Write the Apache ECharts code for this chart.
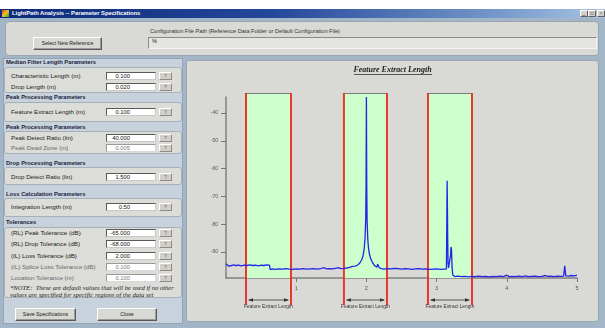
<!DOCTYPE html>
<html><head><meta charset="utf-8">
<script src="https://cdn.jsdelivr.net/npm/echarts@6/dist/echarts.min.js"></script>
<style>
body{margin:0;width:605px;height:328px;overflow:hidden;background:#fff;font-family:"Liberation Sans",Arial,sans-serif;position:relative;}
.a{position:absolute;box-sizing:border-box;white-space:nowrap;}
#win{left:0;top:9px;width:605px;height:319px;background:#a3b6c7;}
#tb{left:0;top:9px;width:605px;height:9px;background:linear-gradient(to right,#0c2a78,#23479a 45%,#6f93c6 80%,#a8c4e4);}
#tbt{left:12px;top:9px;font-size:5.8px;line-height:9px;color:#fff;font-weight:bold;}
.wb{top:10px;width:8px;height:7px;background:#d4d0c8;border:1px solid;border-color:#fff #606060 #606060 #fff;font-size:5px;line-height:5px;text-align:center;color:#000;}
.pnl{background:#d9d9d5;border:1px solid #9aa6b0;border-radius:4px;}
.btn{background:#d8d8d4;border:1px solid;border-color:#fff #5a5a5a #5a5a5a #fff;box-shadow:inset -1px -1px 0 #9a9a9a;font-size:5.2px;text-align:center;color:#222;}
.hd{left:6px;font-size:5.8px;font-weight:bold;color:#1b2440;line-height:8px;}
.box{left:4px;width:178px;background:#dcdcd9;border:1px solid #a6aeb6;border-radius:3px;}
.lbl{left:11px;font-size:6.2px;color:#222;line-height:8px;}
.lbl.g{color:#6a6a6a;}
.fld{left:106px;width:50px;height:8px;background:#fff;border:1px solid;border-color:#5a5a5a #c8c8c8 #c8c8c8 #5a5a5a;font-size:5.8px;line-height:6px;text-align:right;padding-right:25px;color:#111;}
.fld.g{color:#777;border-color:#9a9a9a #d8d8d8 #d8d8d8 #9a9a9a;}
.q{left:159px;width:13px;height:8px;background:#d4d0c8;border:1px solid;border-color:#fff #8a8a8a #8a8a8a #fff;font-size:5.2px;line-height:6px;text-align:center;color:#6f6f6f;}
.note{left:10px;font-family:"Liberation Serif",serif;font-style:italic;font-size:6.6px;color:#222;line-height:8px;}
</style></head><body>
<div class="a" id="win"></div>
<div class="a" id="tb"></div>
<div class="a" style="left:2px;top:10px;width:7px;height:7px;background:linear-gradient(135deg,#e8402a,#f0c020 50%,#30a040);"></div>
<div class="a" id="tbt">LightPath Analysis -- Parameter Specifications</div>
<div class="a wb" style="left:580px">_</div>
<div class="a wb" style="left:588px">□</div>
<div class="a wb" style="left:597px;color:#777">×</div>

<!-- top panel -->
<div class="a pnl" style="left:5px;top:21px;width:594px;height:35px;"></div>
<div class="a btn" style="left:33px;top:37px;width:69px;height:13px;line-height:11px;">Select New Reference</div>
<div class="a" style="left:150px;top:27px;font-size:5.6px;line-height:8px;color:#333;">Configuration File Path (Reference Data Folder or Default Configuration File)</div>
<div class="a" style="left:148px;top:37px;width:449px;height:12px;background:#e4e4e2;border:1px solid;border-color:#8a8a8a #f4f4f4 #f4f4f4 #8a8a8a;font-size:5.6px;line-height:7px;padding-left:3px;color:#222;">%</div>

<!-- left column -->
<div class="a" style="left:3px;top:58px;width:180px;height:266px;background:#c8d2dc;border:1px solid #93a5b5;"></div>
<div class="a hd" style="top:58px">Median Filter Length Parameters</div>
<div class="a box" style="top:67px;height:26px"></div>
<div class="a lbl" style="top:72px">Characteristic Length (m)</div><div class="a fld" style="top:72px">0.100</div><div class="a q" style="top:72px">?</div>
<div class="a lbl" style="top:83px">Drop Length (m)</div><div class="a fld" style="top:83px">0.020</div><div class="a q" style="top:83px">?</div>

<div class="a hd" style="top:93px">Peak Processing Parameters</div>
<div class="a box" style="top:102px;height:20px"></div>
<div class="a lbl" style="top:108px">Feature Extract Length (m)</div><div class="a fld" style="top:108px">0.100</div><div class="a q" style="top:108px">?</div>

<div class="a hd" style="top:123px">Peak Processing Parameters</div>
<div class="a box" style="top:131px;height:23px"></div>
<div class="a lbl" style="top:134px">Peak Detect Ratio (lin)</div><div class="a fld" style="top:134px">40.000</div><div class="a q" style="top:134px">?</div>
<div class="a lbl g" style="top:144px">Peak Dead Zone (m)</div><div class="a fld g" style="top:144px">0.005</div><div class="a q" style="top:144px">?</div>

<div class="a hd" style="top:159px">Drop Processing Parameters</div>
<div class="a box" style="top:167px;height:18px"></div>
<div class="a lbl" style="top:173px">Drop Detect Ratio (lin)</div><div class="a fld" style="top:173px">1.500</div><div class="a q" style="top:173px">?</div>

<div class="a hd" style="top:190px">Loss Calculation Parameters</div>
<div class="a box" style="top:198px;height:19px"></div>
<div class="a lbl" style="top:203px">Integration Length (m)</div><div class="a fld" style="top:203px">0.50</div><div class="a q" style="top:203px">?</div>

<div class="a hd" style="top:218px">Tolerances</div>
<div class="a box" style="top:227px;height:71px"></div>
<div class="a lbl" style="top:229px">(RL) Peak Tolerance (dB)</div><div class="a fld" style="top:229px">-65.000</div><div class="a q" style="top:229px">?</div>
<div class="a lbl" style="top:240px">(RL) Drop Tolerance (dB)</div><div class="a fld" style="top:240px">-68.000</div><div class="a q" style="top:240px">?</div>
<div class="a lbl" style="top:252px">(IL) Loss Tolerance (dB)</div><div class="a fld" style="top:252px">2.000</div><div class="a q" style="top:252px">?</div>
<div class="a lbl g" style="top:263px">(IL) Splice Loss Tolerance (dB)</div><div class="a fld g" style="top:263px">0.100</div><div class="a q" style="top:263px">?</div>
<div class="a lbl g" style="top:274px">Location Tolerance (m)</div><div class="a fld g" style="top:274px">0.100</div><div class="a q" style="top:274px">?</div>
<div class="a note" style="top:284px">*NOTE:&nbsp; These are default values that will be used if no other</div>
<div class="a note" style="top:291px">values are specified for specific regions of the data set</div>

<div class="a btn" style="left:15px;top:308px;width:61px;height:13px;line-height:11px;">Save Specifications</div>
<div class="a btn" style="left:97px;top:308px;width:60px;height:13px;line-height:11px;">Close</div>

<!-- chart panel -->
<div class="a pnl" style="left:186px;top:60px;width:413px;height:262px;border-radius:3px;"></div>
<div class="a" id="chart" style="left:186px;top:60px;width:413px;height:262px;"></div>

<script>
// ---- chart values ----
const xTicks = [1, 2, 3, 4, 5];
const yTicks = [-90, -80, -70, -60, -50, -40];
const xMin = 0, xMax = 5;
const yMin = -99.4, yMax = -34.2;

const bandStarts = [0.285, 1.68, 2.877];
const bandEnds   = [0.926, 2.293, 3.504];
const bandLabels = ['Feature Extract Length', 'Feature Extract Length', 'Feature Extract Length'];

const traceX = [
  0.00,0.02,0.035,0.05,0.08,0.11,0.14,0.18,0.22,0.26,0.30,0.34,0.38,0.42,0.46,0.50,0.54,0.58,0.62,
  0.63,0.66,0.70,0.75,0.80,0.85,0.90,0.95,1.00,1.05,1.10,1.15,1.20,1.25,1.30,1.35,1.40,1.43,1.48,1.52,1.56,1.60,1.63,1.68,1.72,1.76,
  1.80,1.82,1.84,1.87,1.90,1.93,1.95,1.96,1.97,1.98,1.99,1.995,2.00,2.005,2.01,2.02,2.03,2.04,2.06,2.09,2.12,2.15,2.16,2.17,2.18,
  2.21,2.25,2.30,2.35,2.40,2.45,2.50,2.55,2.60,2.65,2.70,2.75,2.80,2.85,2.90,2.95,3.00,3.05,3.10,3.14,
  3.145,3.15,3.154,3.158,3.163,3.17,3.19,3.20,3.205,3.212,3.22,3.23,
  3.26,3.30,3.35,3.40,3.45,3.50,3.55,3.60,3.65,3.70,3.75,3.80,3.85,3.90,3.95,4.00,4.03,4.08,4.12,4.17,4.22,4.27,4.30,
  4.35,4.40,4.45,4.50,4.55,4.58,4.62,4.67,4.72,4.77,4.81,4.825,4.83,4.84,4.88,4.92,4.96,5.00
];
const traceY = [
  -94.3,-94.7,-95.1,-94.8,-94.9,-94.7,-94.9,-94.8,-95.0,-94.8,-94.9,-94.7,-94.9,-94.8,-95.0,-94.8,-94.9,-94.7,-94.8,
  -96.4,-96.1,-96.3,-96.1,-96.2,-96.0,-96.2,-96.3,-96.1,-96.2,-96.0,-96.2,-96.1,-96.0,-96.2,-96.0,-95.7,-96.1,-96.0,-96.1,-95.9,-95.7,-96.0,-95.9,-95.8,-95.6,
  -95.2,-94.6,-95.1,-94.8,-94.2,-93.0,-91.6,-90.3,-88.4,-85.2,-78.5,-66.0,-34.2,-66.0,-79.0,-85.6,-88.6,-90.4,-92.4,-94.0,-95.0,-95.5,-94.4,-94.3,-95.6,
  -96.0,-96.2,-96.0,-96.1,-95.9,-96.0,-96.2,-96.0,-96.1,-96.3,-96.1,-96.0,-96.2,-96.1,-96.3,-96.2,-96.1,-96.3,-96.2,-96.2,
  -95.8,-64.4,-73.6,-85.0,-94.0,-95.8,-96.0,-91.0,-88.2,-89.0,-95.5,-98.3,
  -98.9,-98.7,-98.9,-98.8,-99.0,-98.8,-98.9,-98.7,-98.9,-98.8,-99.0,-98.8,-98.9,-98.7,-98.9,-98.4,-98.9,-98.8,-98.9,-98.7,-98.9,-98.6,-98.9,
  -98.8,-98.7,-98.9,-98.8,-98.5,-98.8,-98.7,-98.9,-98.7,-98.8,-98.7,-95.0,-95.3,-98.6,-98.7,-98.5,-98.6,-98.4
];

const chart = echarts.init(document.getElementById('chart'), null, {renderer: 'canvas'});
const axisGray = '#808080';

function renderBand(params, api) {
  const cs = params.coordSys;
  const x0 = api.coord([api.value(0), yMax])[0];
  const x1 = api.coord([api.value(1), yMax])[0];
  const top = cs.y - 4, bot = cs.y + cs.height;
  const ay = bot + 22;
  return {
    type: 'group',
    children: [
      {type: 'rect', shape: {x: x0, y: top, width: x1 - x0, height: bot - top}, style: {fill: '#ccffcc'}},
      {type: 'line', shape: {x1: x0, y1: top + 0.5, x2: x1, y2: top + 0.5}, style: {stroke: '#7a7a7a', lineWidth: 1}},
      {type: 'line', shape: {x1: x0, y1: top, x2: x0, y2: bot + 27}, style: {stroke: '#e8382e', lineWidth: 2}},
      {type: 'line', shape: {x1: x1, y1: top, x2: x1, y2: bot + 27}, style: {stroke: '#e8382e', lineWidth: 2}},
      {type: 'line', shape: {x1: x0 + 3, y1: ay, x2: x1 - 3, y2: ay}, style: {stroke: '#333', lineWidth: 0.8}},
      {type: 'polygon', shape: {points: [[x0 + 2, ay], [x0 + 7, ay - 1.8], [x0 + 7, ay + 1.8]]}, style: {fill: '#333'}},
      {type: 'polygon', shape: {points: [[x1 - 2, ay], [x1 - 7, ay - 1.8], [x1 - 7, ay + 1.8]]}, style: {fill: '#333'}},
      {type: 'text', x: (x0 + x1) / 2, y: bot + 29,
        style: {text: bandLabels[params.dataIndex], fontSize: 4.8, fill: '#333', align: 'center', verticalAlign: 'middle', fontFamily: 'Liberation Sans'}}
    ]
  };
}

chart.setOption({
  animation: false,
  backgroundColor: 'transparent',
  title: {
    text: 'Feature Extract Length', left: 'center', top: 5, padding: 0,
    textStyle: {fontFamily: 'Liberation Serif', fontStyle: 'italic', fontWeight: 'bold', fontSize: 8, lineHeight: 10, color: '#222'}
  },
  graphic: [
    {type: 'line', shape: {x1: 168, y1: 14.5, x2: 246, y2: 14.5}, style: {stroke: '#333', lineWidth: 0.8}}
  ],
  grid: {left: 40, top: 37, width: 351, height: 181},
  xAxis: {
    type: 'value', min: xMin, max: xMax,
    axisLine: {lineStyle: {color: axisGray, width: 1.5}},
    axisTick: {customValues: xTicks, length: 4, lineStyle: {color: '#777'}},
    axisLabel: {customValues: xTicks, fontSize: 5.5, color: '#555', margin: 7, fontFamily: 'Liberation Sans'},
    splitLine: {show: false}
  },
  yAxis: {
    type: 'value', min: yMin, max: yMax,
    axisLine: {show: true, lineStyle: {color: axisGray, width: 1.5}},
    axisTick: {show: true, customValues: yTicks, length: 5, lineStyle: {color: '#777'}},
    axisLabel: {customValues: yTicks, fontSize: 5, color: '#555', margin: 8, fontFamily: 'Liberation Sans'},
    splitLine: {show: false}
  },
  series: [
    {
      type: 'custom', renderItem: renderBand, z: 1,
      encode: {x: [0, 1], y: 2},
      data: bandStarts.map((s, i) => [s, bandEnds[i], yMin])
    },
    {
      type: 'line', z: 5, showSymbol: false, symbol: 'none',
      lineStyle: {color: '#2424e6', width: 1.3},
      data: traceX.map((x, i) => [x, traceY[i]])
    }
  ]
});
</script>
</body></html>
